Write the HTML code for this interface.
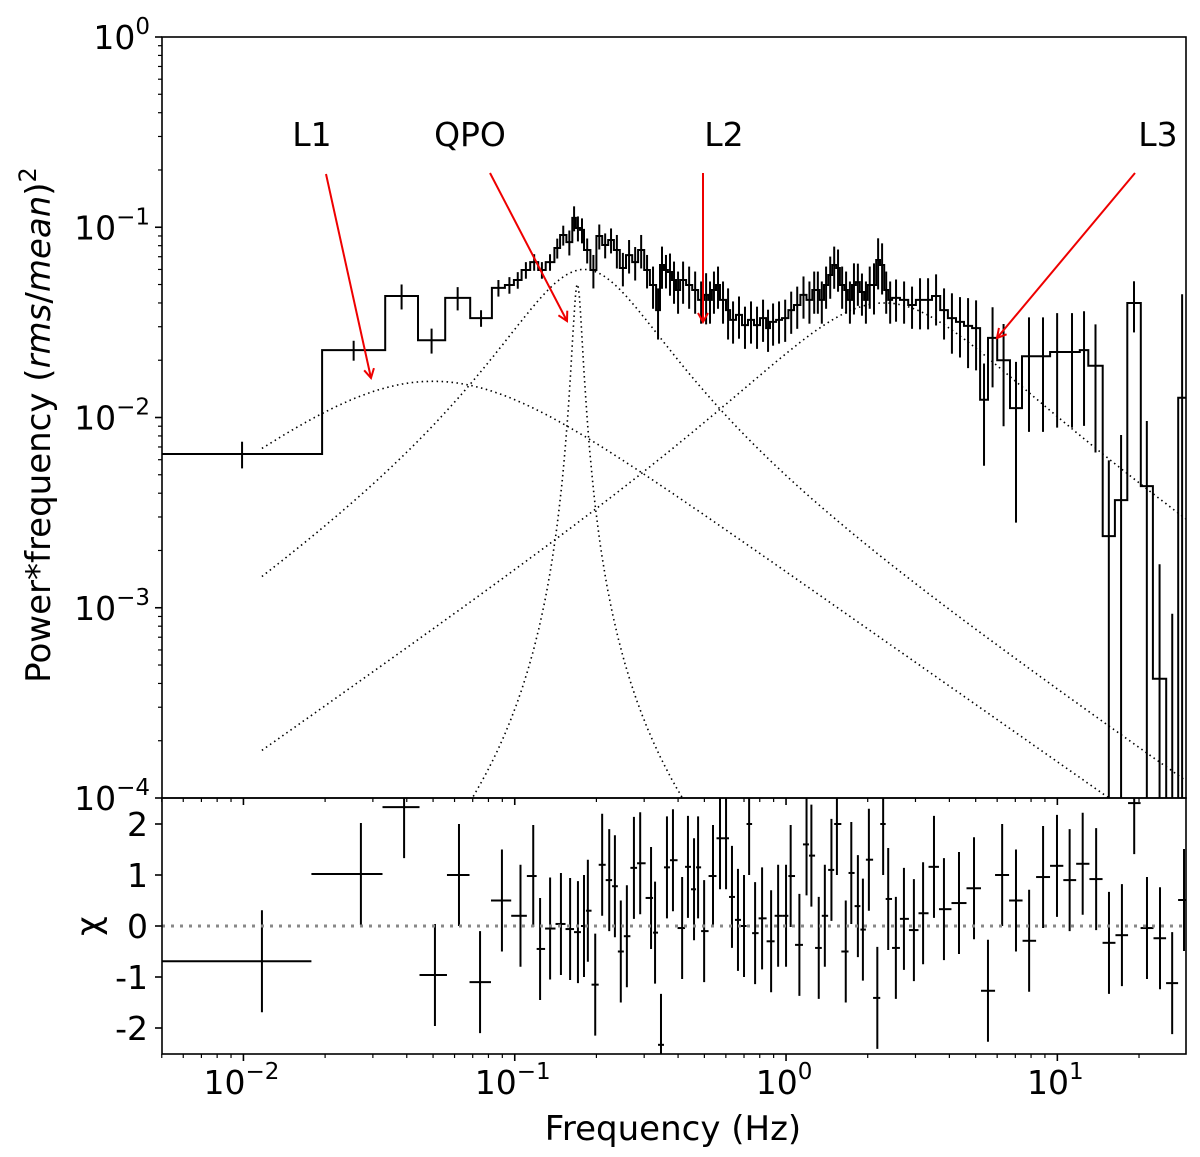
<!DOCTYPE html>
<html><head><meta charset="utf-8"><style>
html,body{margin:0;padding:0;background:#fff;}
svg{display:block;font-family:"DejaVu Sans","Liberation Sans",sans-serif;}
</style></head><body>
<svg id="chart" width="1200" height="1157" viewBox="0 0 1200 1157" xmlns="http://www.w3.org/2000/svg">
<defs>
<clipPath id="clipTop"><rect x="162" y="37" width="1024" height="761"/></clipPath>
<clipPath id="clipBot"><rect x="162" y="798" width="1024" height="256"/></clipPath>
<marker id="arr" markerWidth="12" markerHeight="12" refX="10" refY="6" orient="auto" markerUnits="userSpaceOnUse"><path d="M1,1 L10,6 L1,11" fill="none" stroke="#e00" stroke-width="2"/></marker>
</defs>
<g id="models" clip-path="url(#clipTop)"></g>
<g id="hist" clip-path="url(#clipTop)"></g>
<g id="resid" clip-path="url(#clipBot)"></g>
<line x1="162" y1="926" x2="1186" y2="926" stroke="#888" stroke-width="3" stroke-dasharray="3,6"/>
<rect x="162" y="37" width="1024" height="761" fill="none" stroke="#000" stroke-width="1.6"/>
<rect x="162" y="798" width="1024" height="256" fill="none" stroke="#000" stroke-width="1.6"/>
<g id="axes" font-size="33" fill="#000"></g>
<text transform="translate(50,425) rotate(-90)" text-anchor="middle" font-size="34">Power*frequency (<tspan font-style="italic">rms</tspan>/<tspan font-style="italic">mean</tspan>)<tspan dy="-14" font-size="24">2</tspan></text>
<text transform="translate(100,926) rotate(-90)" text-anchor="middle" font-size="34">χ</text>
<text x="673" y="1140" text-anchor="middle" font-size="34">Frequency (Hz)</text>
<g font-size="33">
<text x="312" y="146" text-anchor="middle">L1</text>
<text x="470" y="146" text-anchor="middle">QPO</text>
<text x="724" y="146" text-anchor="middle">L2</text>
<text x="1158" y="146" text-anchor="middle">L3</text>
<line x1="326" y1="174" x2="371" y2="378" stroke="#e00" stroke-width="2" marker-end="url(#arr)"/>
<line x1="490" y1="173" x2="567" y2="321" stroke="#e00" stroke-width="2" marker-end="url(#arr)"/>
<line x1="703" y1="173" x2="703" y2="322" stroke="#e00" stroke-width="2" marker-end="url(#arr)"/>
<line x1="1135" y1="173" x2="997" y2="338" stroke="#e00" stroke-width="2" marker-end="url(#arr)"/>
</g>
</svg>
<script>
// ---- data ----
const binEdges = [0.00501,0.0195,0.0333,0.0440,0.0554,0.0685,0.0824,0.0920,0.0993,0.106,0.114,0.122,0.130,0.140,0.147,0.155,0.163,0.168,0.174,0.180,0.190,0.200,0.210,0.221,0.232,0.244,0.257,0.271,0.285,0.300,0.315,0.332,0.343,0.355,0.367,0.380,0.393,0.407,0.428,0.451,0.474,0.499,0.516,0.533,0.552,0.571,0.601,0.622,0.654,0.688,0.724,0.762,0.802,0.844,0.873,0.919,0.966,1.02,1.07,1.13,1.19,1.25,1.29,1.33,1.38,1.43,1.48,1.53,1.58,1.64,1.69,1.75,1.81,1.87,1.94,2.00,2.07,2.15,2.22,2.30,2.38,2.46,2.63,2.82,3.01,3.23,3.45,3.70,3.95,4.23,4.53,4.85,5.19,5.55,6.00,6.69,7.41,8.34,9.40,10.6,12.1,13.0,14.7,16.3,18.1,20.3,22.5,25.2,27.9,29.8];
const power = [0.00643,0.0226,0.0435,0.0255,0.0425,0.0333,0.0480,0.0497,0.0528,0.0596,0.0656,0.0596,0.0656,0.0778,0.0910,0.0836,0.112,0.0991,0.0968,0.0759,0.0596,0.0899,0.0807,0.0857,0.0759,0.0611,0.0714,0.0656,0.0759,0.0596,0.0497,0.0367,0.0633,0.0596,0.0582,0.0528,0.0468,0.0528,0.0497,0.0468,0.0415,0.0441,0.0415,0.0468,0.0497,0.0415,0.0367,0.0326,0.0346,0.0306,0.0326,0.0306,0.0333,0.0295,0.0318,0.0326,0.0333,0.0367,0.0390,0.0441,0.0415,0.0468,0.0468,0.0415,0.0497,0.0561,0.0633,0.0611,0.0497,0.0468,0.0415,0.0497,0.0515,0.0457,0.0415,0.0497,0.0497,0.0673,0.0633,0.0468,0.0415,0.0425,0.0415,0.0390,0.0415,0.0415,0.0435,0.0367,0.0333,0.0318,0.0303,0.0295,0.0124,0.0262,0.0200,0.0112,0.0210,0.0210,0.0221,0.0221,0.0226,0.0187,0.00238,0.00368,0.0400,0.00436,0.000423,0.00003,0.0127];
const relErr = [0.16,0.12,0.15,0.15,0.14,0.1,0.1,0.1,0.1,0.1,0.1,0.1,0.1,0.12,0.12,0.15,0.15,0.15,0.15,0.15,0.2,0.15,0.15,0.15,0.2,0.2,0.2,0.2,0.2,0.2,0.25,0.3,0.25,0.2,0.25,0.25,0.25,0.25,0.25,0.25,0.25,0.3,0.25,0.25,0.25,0.25,0.3,0.25,0.25,0.25,0.25,0.25,0.25,0.25,0.25,0.25,0.25,0.25,0.25,0.25,0.25,0.25,0.25,0.25,0.25,0.25,0.25,0.25,0.25,0.25,0.25,0.3,0.25,0.25,0.25,0.25,0.3,0.3,0.3,0.25,0.25,0.25,0.25,0.25,0.3,0.3,0.3,0.3,0.35,0.35,0.4,0.4,0.55,0.45,0.55,0.75,0.6,0.6,0.6,0.6,0.6,0.65,1.5,1.2,0.3,1.2,3,30,2.5];
const compCentre = [0, 0.17, 0.15, 1.3];
const compWidth = [0.05, 0.007, 0.1, 1.9];
const compPeak = [0.0155, 0.05, 0.06, 0.04];
const residFreq = [0.0117,0.0271,0.0391,0.0508,0.0623,0.0745,0.0897,0.105,0.117,0.124,0.135,0.148,0.160,0.171,0.180,0.186,0.198,0.210,0.223,0.234,0.246,0.259,0.275,0.290,0.318,0.329,0.346,0.364,0.383,0.414,0.435,0.458,0.474,0.499,0.538,0.571,0.601,0.632,0.665,0.700,0.731,0.769,0.816,0.881,0.935,1.00,1.04,1.12,1.19,1.24,1.32,1.39,1.47,1.54,1.66,1.74,1.84,1.92,2.02,2.17,2.28,2.38,2.54,2.72,2.96,3.20,3.51,3.82,4.34,4.93,5.55,6.26,7.04,7.87,8.86,9.97,11.1,12.4,13.9,15.5,17.3,19.2,21.4,23.9,26.5,29.3];
const residChi = [-0.69,1.02,2.33,-0.96,1.0,-1.1,0.5,0.2,0.98,-0.45,-0.05,0.04,-0.06,-0.12,0.0,0.3,-1.15,1.2,0.9,0.78,-0.5,-0.2,1.14,1.23,0.55,-0.13,-2.33,1.15,1.29,-0.04,1.16,0.72,1.15,-0.1,0.98,1.72,1.72,0.57,0.12,0.0,2.0,-0.14,0.15,-0.3,0.2,0.2,0.98,-0.37,1.6,1.38,-0.43,0.2,1.1,2.0,-0.5,1.04,0.39,-0.07,1.3,-1.41,2.0,0.53,-0.43,0.14,-0.08,0.25,1.16,0.33,0.45,0.74,-1.27,1.0,0.5,-0.29,0.96,1.18,0.9,1.22,0.92,-0.33,-0.18,2.41,-0.04,-0.24,-1.12,0.51];
const xTickExp = [-2, -1, 0, 1];
const yTickExp = [0, -1, -2, -3, -4];
const chiTicks = [2, 1, 0, -1, -2];
const chiLabels = ["2", "1", "0", "-1", "-2"];

// ---- scales ----
const L = 162, R = 1186, T = 37, B = 798, RB = 1054;
const xMin = Math.log10(0.00501), xMax = Math.log10(29.8);
const xs = f => L + (Math.log10(f) - xMin) / (xMax - xMin) * (R - L);
const ys = v => T + (0 - Math.log10(v)) / 4 * (B - T);
const yc = c => 926 - c * 51;
const NS = "http://www.w3.org/2000/svg";
function mk(tag, attrs, parent) { const e = document.createElementNS(NS, tag); for (const k in attrs) e.setAttribute(k, attrs[k]); parent.appendChild(e); return e; }

// ---- model components ----
const gM = document.getElementById('models');
const names = ['model-l1', 'model-qpo', 'model-l2', 'model-l3'];
for (let c = 0; c < compPeak.length; c++) {
  const shape = f => f / (compWidth[c] * compWidth[c] + (f - compCentre[c]) * (f - compCentre[c]));
  let mx = 0; const fs = [];
  for (let lf = Math.log10(0.0117); lf <= Math.log10(30); lf += 0.003) { fs.push(Math.pow(10, lf)); }
  fs.forEach(f => { mx = Math.max(mx, shape(f)); });
  let d = '';
  fs.forEach((f, i) => { const v = Math.max(compPeak[c] * shape(f) / mx, 1e-6); d += (i ? 'L' : 'M') + xs(f).toFixed(1) + ',' + ys(v).toFixed(1); });
  const p = mk('path', { d: d, fill: 'none', stroke: '#000', 'stroke-width': 1.6, 'stroke-dasharray': '1.5,3.5' }, gM);
  
  
}

// ---- histogram ----
const gH = document.getElementById('hist');
const nb = Math.min(power.length, binEdges.length - 1);
let d = '';
for (let i = 0; i < nb; i++) {
  const y = Math.min(ys(power[i]), 900);
  d += (i ? 'L' : 'M') + xs(binEdges[i]).toFixed(1) + ',' + y.toFixed(1) + 'L' + xs(binEdges[i + 1]).toFixed(1) + ',' + y.toFixed(1);
}
const hp = mk('path', { d: d, fill: 'none', stroke: '#000', 'stroke-width': 2 }, gH);


for (let i = 0; i < nb; i++) {
  const fc = Math.sqrt(binEdges[i] * binEdges[i + 1]);
  const s = (relErr[i] === undefined ? 0.3 : relErr[i]) * power[i];
  const lo = power[i] - s > 0 ? ys(power[i] - s) : 900;
  const hi = ys(power[i] + s);
  const e = mk('line', { x1: xs(fc), x2: xs(fc), y1: hi, y2: lo, stroke: '#000', 'stroke-width': 2 }, gH);
  
  
}

// ---- residuals ----
const gR = document.getElementById('resid');
const nr = Math.min(residFreq.length, residChi.length);
for (let i = 0; i < nr; i++) {
  const lf = Math.log10(residFreq[i]);
  const lo = i === 0 ? xMin : (lf + Math.log10(residFreq[i - 1])) / 2;
  const hi = i === nr - 1 ? xMax : (lf + Math.log10(residFreq[i + 1])) / 2;
  const x = xs(residFreq[i]), y = yc(residChi[i]);
  const g = mk('g', {}, gR);
  
  
  mk('line', { x1: xs(Math.pow(10, lo)), x2: xs(Math.pow(10, hi)), y1: y, y2: y, stroke: '#000', 'stroke-width': 2 }, g);
  mk('line', { x1: x, x2: x, y1: yc(residChi[i] + 1), y2: yc(residChi[i] - 1), stroke: '#000', 'stroke-width': 2 }, g);
}

// ---- axes ----
const gA = document.getElementById('axes');
function tick(x1, y1, x2, y2, w) { const t = mk('line', { x1: x1, y1: y1, x2: x2, y2: y2, stroke: '#000', 'stroke-width': w }, gA);   }
for (let e = -3; e <= 1; e++) {
  for (let m = 1; m <= 9; m++) {
    const f = m * Math.pow(10, e); const x = xs(f);
    if (x < L - 0.5 || x > R + 0.5) continue;
    const len = m === 1 ? 7 : 4, w = m === 1 ? 1.6 : 1.2;
    tick(x, B, x, B + len, w); tick(x, RB, x, RB + len, w);
  }
}
xTickExp.forEach(e => {
  const t = mk('text', { x: xs(Math.pow(10, e)) - 2, y: RB + 40, 'text-anchor': 'middle' }, gA);
  
  
  t.innerHTML = '10<tspan dy="-15" font-size="23">' + (e < 0 ? '\u2212' + (-e) : e) + '</tspan>';
});
for (let e = -4; e <= 0; e++) {
  for (let m = 1; m <= 9; m++) {
    const v = m * Math.pow(10, e); if (v > 1) continue;
    const y = ys(v); tick(L, y, L - (m === 1 ? 7 : 4), y, m === 1 ? 1.6 : 1.2);
  }
}
yTickExp.forEach(e => {
  const t = mk('text', { x: L - 12, y: ys(Math.pow(10, e)) + 12, 'text-anchor': 'end' }, gA);
  
  
  t.innerHTML = '10<tspan dy="-15" font-size="23">' + (e < 0 ? '\u2212' + (-e) : e) + '</tspan>';
});
chiTicks.forEach((c, i) => {
  tick(L, yc(c), L - 7, yc(c), 1.6);
  const t = mk('text', { x: L - 14, y: yc(c) + 12, 'text-anchor': 'end' }, gA);
  
  
  t.textContent = chiLabels[i];
});
</script>
</body></html>
